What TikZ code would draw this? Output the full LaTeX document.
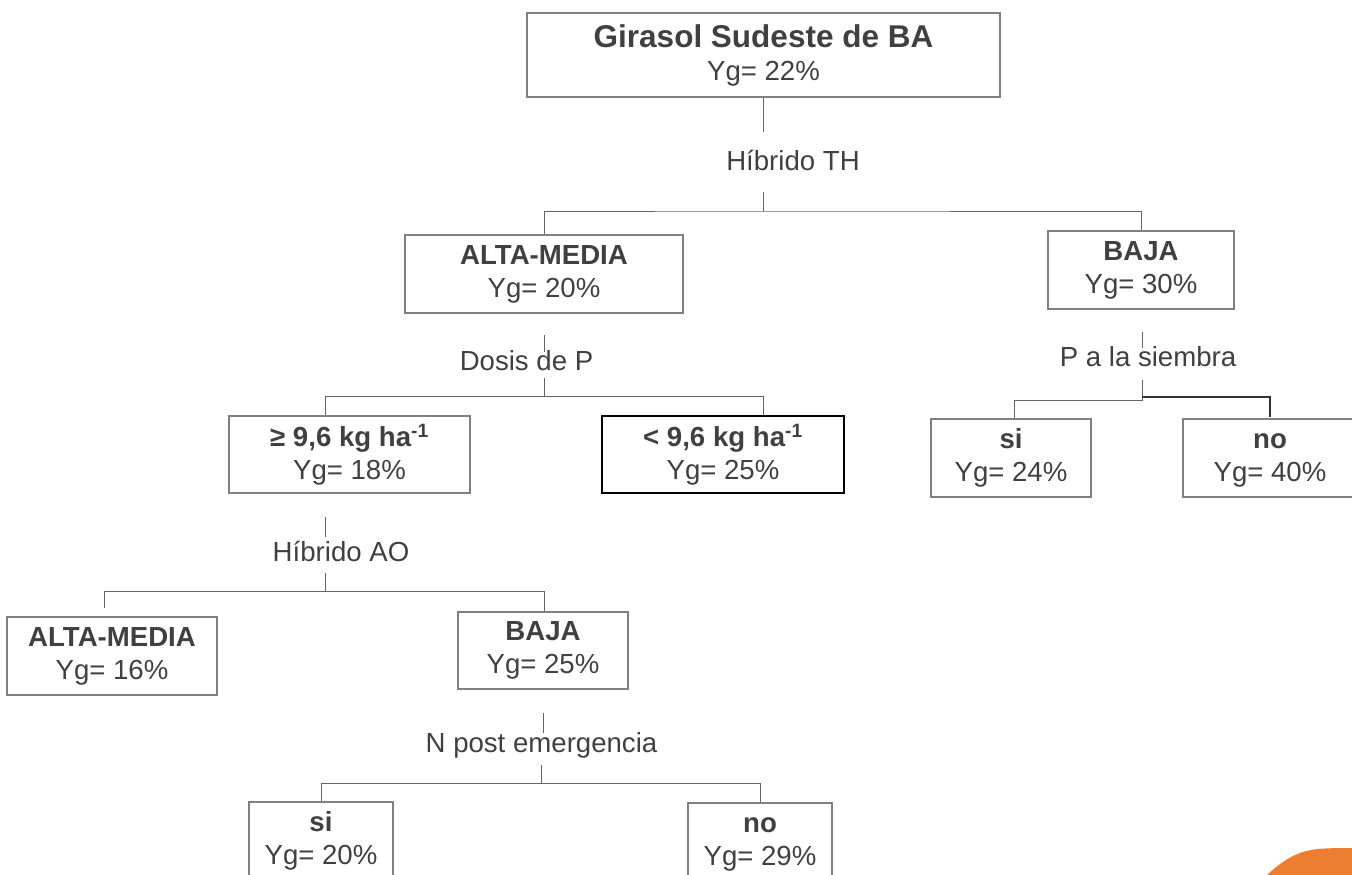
\documentclass[tikz,border=0pt]{standalone}
\usepackage{fontspec}
\setmainfont{Liberation Sans}
\definecolor{txt}{RGB}{64,64,64}
\definecolor{bord}{RGB}{128,128,128}
\definecolor{conn}{RGB}{100,100,100}
\definecolor{orng}{RGB}{237,125,49}
\newcommand\boxtxt[2]{\rule{0pt}{19pt}\textbf{#1}\\Yg= #2\%}
\begin{document}
\begin{tikzpicture}[x=1pt,y=-1pt,
  box/.style={draw=bord, line width=1.2pt, inner sep=0pt, align=center, text=txt,
    font=\fontsize{27.6}{33}\selectfont},
  heavybox/.style={box, draw=black, line width=2pt},
  lbl/.style={inner sep=0pt, anchor=base, text=txt, font=\fontsize{27.6}{33}\selectfont},
  conn/.style={draw=conn, line width=1pt},
  conndark/.style={draw=black!80, line width=1.2pt}]
\useasboundingbox (0,0) rectangle (1352,875);

% boxes
\node[box, minimum width=473pt, minimum height=84pt] (root) at (763.5,55)
  {\rule{0pt}{22pt}{\fontsize{31.5}{33}\selectfont\bfseries Girasol Sudeste de BA}\\Yg= 22\%};
\node[box, minimum width=278pt, minimum height=78pt] (am1) at (544,274) {\boxtxt{ALTA-MEDIA}{20}};
\node[box, minimum width=186pt, minimum height=78pt] (baja1) at (1141,270) {\boxtxt{BAJA}{30}};
\node[box, minimum width=241pt, minimum height=77pt] (ge) at (349.5,454.5) {\boxtxt{≥ 9,6 kg ha\textsuperscript{-1}}{18}};
\node[heavybox, minimum width=242pt, minimum height=77pt] (lt) at (723,454.5) {\boxtxt{< 9,6 kg ha\textsuperscript{-1}}{25}};
\node[box, minimum width=160pt, minimum height=78pt] (si1) at (1011,458) {\boxtxt{si}{24}};
\node[box, minimum width=174pt, minimum height=78pt] (no1) at (1270,458) {\boxtxt{no}{40}};
\node[box, minimum width=210pt, minimum height=78pt] (am2) at (112,656) {\boxtxt{ALTA-MEDIA}{16}};
\node[box, minimum width=170pt, minimum height=77pt] (baja2) at (543,650.5) {\boxtxt{BAJA}{25}};
\node[box, minimum width=144pt, minimum height=78pt] (si2) at (321,841) {\boxtxt{si}{20}};
\node[box, minimum width=144pt, minimum height=78pt] (no2) at (760,842) {\boxtxt{no}{29}};

% split labels
\node[lbl] (lTH) at (793,170) {Híbrido TH};
\node[lbl] (lDP) at (526.5,370) {Dosis de P};
\node[lbl] (lPS) at (1148,366) {P a la siembra};
\node[lbl] (lAO) at (341,561) {Híbrido AO};
\node[lbl] (lN) at (541.5,752) {N post emergencia};

% connectors: root
\coordinate (a1) at (763,132); \coordinate (a2) at (763,192); \coordinate (a3) at (763,211);
\draw[conn] (a1 |- root.south) -- (a1);
\draw[conn] (a2) -- (a3);
\draw[conn] (am1.north) |- (a3) -| (baja1.north);

% Dosis de P
\coordinate (b1) at (544,335); \coordinate (b2) at (544,352);
\coordinate (b3) at (544,378); \coordinate (b4) at (544,396);
\coordinate (b5) at (325,396); \coordinate (b6) at (763,396);
\draw[conn] (b1) -- (b2);
\draw[conn] (b3) -- (b4);
\draw[conn] (b5 |- ge.north) -- (b5) -- (b6) -- (b6 |- lt.north);

% P a la siembra
\coordinate (c1) at (1142,332); \coordinate (c2) at (1142,348);
\coordinate (c3) at (1142,380); \coordinate (c4) at (1142,400);
\coordinate (c5) at (1014,400); \coordinate (c6) at (1142,397);
\coordinate (c7) at (1270,397); \coordinate (c8) at (1270,417);
\draw[conn] (c1) -- (c2);
\draw[conn] (c3) -- (c4) -- (c5) -- (c5 |- si1.north);
\draw[conndark] (c6) -- (c7) -- (c8);

% Hibrido AO
\coordinate (d1) at (325,517); \coordinate (d2) at (325,537);
\coordinate (d3) at (325,573); \coordinate (d4) at (325,591);
\coordinate (d5) at (104,591); \coordinate (d6) at (544,591);
\coordinate (d7) at (104,608);
\draw[conn] (d1) -- (d2);
\draw[conn] (d3) -- (d4);
\draw[conn] (d7) -- (d5) -- (d6) -- (d6 |- baja2.north);

% N post emergencia
\coordinate (e1) at (543,713); \coordinate (e2) at (543,733);
\coordinate (e3) at (541,765); \coordinate (e4) at (541,783);
\coordinate (e5) at (321,783); \coordinate (e6) at (760,783);
\draw[conn] (e1) -- (e2);
\draw[conn] (e3) -- (e4);
\draw[conn] (e5 |- si2.north) -- (e5) -- (e6) -- (e6 |- no2.north);

% orange corner shape
\fill[orng] (1266,876) .. controls (1284,859) and (1298,851) .. (1318,849)
  .. controls (1330,848) and (1340,848) .. (1353,848) -- (1353,876) -- cycle;
\end{tikzpicture}
\end{document}
